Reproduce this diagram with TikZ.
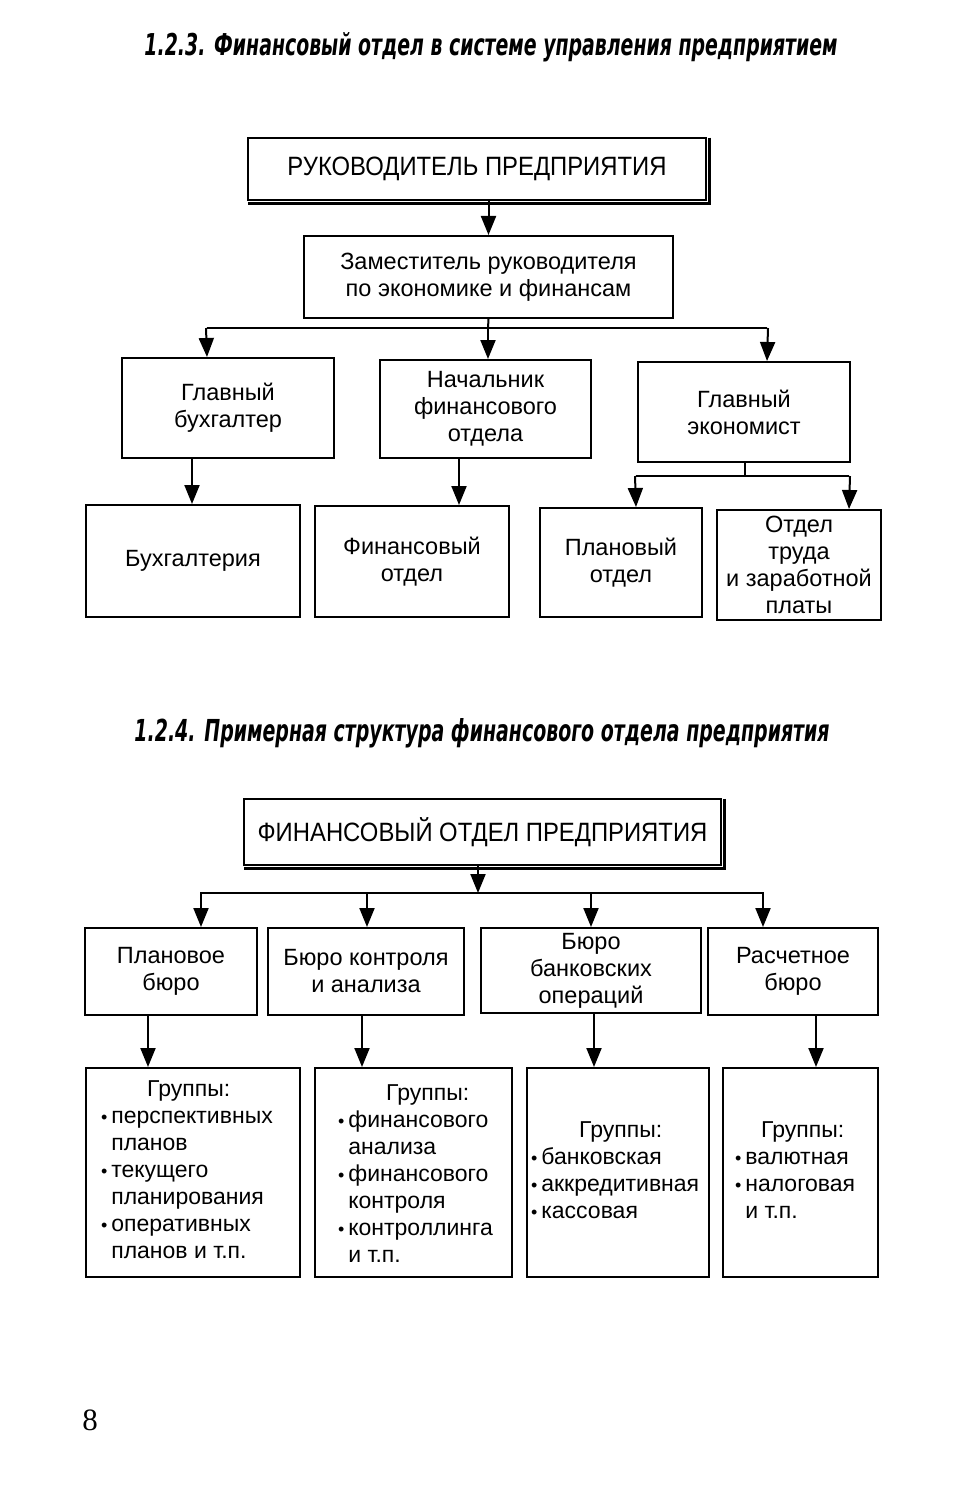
\documentclass[tikz,border=0pt]{standalone}
\usepackage{fontspec}
\setmainfont{Liberation Sans}
\newfontfamily\capsfont{Liberation Sans}[FakeStretch=0.9]
\newfontfamily\headfont{DejaVu Sans}
\newfontfamily\numfont{Liberation Serif}
\usetikzlibrary{arrows.meta}
\newcommand{\bul}{{\fontsize{18}{18}\selectfont•}\,}
\newcommand{\ind}{\hphantom{\bul}}
\begin{document}
\begin{tikzpicture}[x=1pt,y=-1pt,
  box/.style={draw, line width=2pt, align=center, inner sep=0pt,
    font=\fontsize{23.5}{27}\selectfont},
  topbox/.style={box, line width=2.5pt, font=\capsfont\fontsize{26.5}{30}\selectfont},
  gtext/.style={align=left, inner sep=0pt, anchor=north west,
    font=\fontsize{23}{27}\selectfont},
  ln/.style={line width=2pt},
  arr/.style={line width=2pt, -{Triangle[width=15pt,length=19pt]}},
  head/.style={inner sep=0pt, font=\headfont\bfseries\itshape}]
\useasboundingbox (0,0) rectangle (967,1503);

% ---------- Diagram 1.2.3 ----------
\node[head] (h1) at (491,47) {\resizebox{693pt}{23pt}{1.2.3. Финансовый отдел в системе управления предприятием}};

\node[topbox, minimum width=458, minimum height=62] (ruk) at (477,169) {РУКОВОДИТЕЛЬ ПРЕДПРИЯТИЯ};
\draw[line width=3pt] ([xshift=2pt,yshift=-1pt]ruk.north east) -- ([xshift=2pt,yshift=-2pt]ruk.south east) -- ([xshift=1pt,yshift=-2pt]ruk.south west);
\node[box, minimum width=369, minimum height=82] (zam) at (488.5,277) {Заместитель руководителя\\по экономике и финансам};

\node[box, minimum width=212, minimum height=100] (gb) at (228,408) {Главный\\бухгалтер};
\node[box, minimum width=211, minimum height=98] (nf) at (485.5,409) {Начальник\\финансового\\отдела};
\node[box, minimum width=212, minimum height=100] (ge) at (744,412) {Главный\\экономист};

\node[box, minimum width=214, minimum height=112] (buh) at (193,561) {Бухгалтерия};
\node[box, minimum width=194, minimum height=111] (fo) at (412,561.5) {Финансовый\\отдел};
\node[box, minimum width=162, minimum height=109] (po) at (621,562.5) {Плановый\\отдел};
\node[box, minimum width=164, minimum height=110] (ot) at (799,565) {Отдел\\труда\\и заработной\\платы};

\draw[arr] (zam.north |- ruk.south) -- (zam.north);

\coordinate (j1) at (488,328);
\coordinate (j1l) at (207,328);
\coordinate (j1r) at (767,328);
\draw[ln] (zam.south) -- (j1);
\draw[ln] (j1l) -- (j1r);
\draw[arr] ([xshift=-1pt]j1l) -- (j1l |- gb.north);
\draw[arr] (j1) -- (j1 |- nf.north);
\draw[arr] ([xshift=1pt]j1r) -- (j1r |- ge.north);

\coordinate (b1) at (192,0);
\coordinate (b2) at (459,0);
\draw[arr] (b1 |- gb.south) -- (b1 |- buh.north);
\draw[arr] (b2 |- nf.south) -- (b2 |- fo.north);

\coordinate (j2) at (745,476);
\coordinate (j2l) at (636,476);
\coordinate (j2r) at (849,476);
\draw[ln] (j2 |- ge.south) -- (j2);
\draw[ln] (j2l) -- (j2r);
\draw[arr] ([xshift=-1pt]j2l) -- (j2l |- po.north);
\draw[arr] ([xshift=1pt]j2r) -- (j2r |- ot.north);

% ---------- Diagram 1.2.4 ----------
\node[head] (h2) at (482,733) {\resizebox{695pt}{23pt}{1.2.4. Примерная структура финансового отдела предприятия}};

\node[topbox, minimum width=477, minimum height=66] (fin) at (482.5,832) {ФИНАНСОВЫЙ ОТДЕЛ ПРЕДПРИЯТИЯ};
\draw[line width=3pt] ([xshift=2pt,yshift=-1pt]fin.north east) -- ([xshift=2pt,yshift=-2pt]fin.south east) -- ([xshift=1pt,yshift=-2pt]fin.south west);

\node[box, minimum width=172, minimum height=87] (pb) at (171,971.5) {Плановое\\бюро};
\node[box, minimum width=196, minimum height=87] (bk) at (366,971.5) {Бюро контроля\\и анализа};
\node[box, minimum width=220, minimum height=85] (bb) at (591,970.5) {Бюро\\банковских\\операций};
\node[box, minimum width=170, minimum height=87] (rb) at (793,971.5) {Расчетное\\бюро};

\coordinate (k0) at (478,893);
\coordinate (k1) at (201,893);
\coordinate (k2) at (367,893);
\coordinate (k3) at (591,893);
\coordinate (k4) at (763,893);
\draw[arr] (k0 |- fin.south) -- (k0);
\draw[ln] ([xshift=-1pt]k1) -- ([xshift=1pt]k4);
\draw[arr] (k1) -- (k1 |- pb.north);
\draw[arr] (k2) -- (k2 |- bk.north);
\draw[arr] (k3) -- (k3 |- bb.north);
\draw[arr] (k4) -- (k4 |- rb.north);

\node[box, minimum width=214, minimum height=209] (g1) at (193,1172.5) {};
\node[box, minimum width=197, minimum height=209] (g2) at (413.5,1172.5) {};
\node[box, minimum width=182, minimum height=209] (g3) at (618,1172.5) {};
\node[box, minimum width=155, minimum height=209] (g4) at (800.5,1172.5) {};

\coordinate (m1) at (148,0);
\coordinate (m2) at (362,0);
\coordinate (m3) at (594,0);
\coordinate (m4) at (816,0);
\draw[arr] (m1 |- pb.south) -- (m1 |- g1.north);
\draw[arr] (m2 |- bk.south) -- (m2 |- g2.north);
\draw[arr] (m3 |- bb.south) -- (m3 |- g3.north);
\draw[arr] (m4 |- rb.south) -- (m4 |- g4.north);

\node[gtext] (t1) at (101,1080) {\hspace*{46pt}Группы:\\
\bul перспективных\\ \ind планов\\
\bul текущего\\ \ind планирования\\
\bul оперативных\\ \ind планов и т.п.};
\node[gtext] (t2) at (338,1084) {\hspace*{48pt}Группы:\\
\bul финансового\\ \ind анализа\\
\bul финансового\\ \ind контроля\\
\bul контроллинга\\ \ind и т.п.};
\node[gtext] (t3) at (531,1121) {\hspace*{48pt}Группы:\\
\bul банковская\\
\bul аккредитивная\\
\bul кассовая};
\node[gtext] (t4) at (735,1121) {\hspace*{26pt}Группы:\\
\bul валютная\\
\bul налоговая\\ \ind и т.п.};

\node[inner sep=0pt, font=\numfont\fontsize{31}{31}\selectfont] (pg) at (90,1420) {8};
\end{tikzpicture}
\end{document}
